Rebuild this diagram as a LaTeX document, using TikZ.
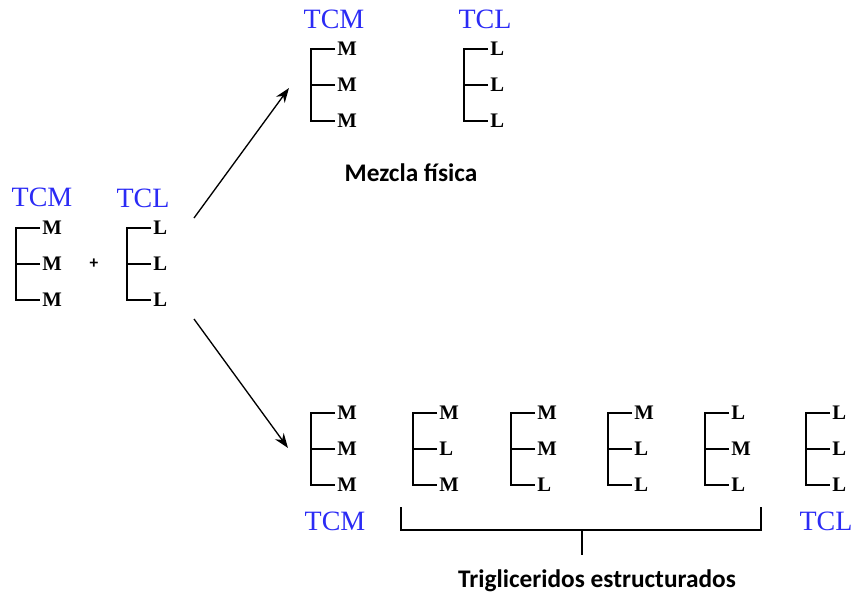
\documentclass[tikz,border=0pt]{standalone}
\usepackage{fontspec}
\setmainfont{Liberation Serif}
\newfontfamily\calibri{Carlito}
\usetikzlibrary{arrows.meta, positioning}
\definecolor{TagBlue}{HTML}{2B2BF5}

% one glycerol backbone with three fatty acids: name, x, y, acids
\newcommand{\glyc}[6]{%
  \coordinate (#1) at (#2,#3);
  \node[acid] (#1-a) at (#2+24,#3) {#4};
  \node[acid] (#1-b) at (#2+24,#3+36) {#5};
  \node[acid] (#1-c) at (#2+24,#3+72) {#6};
  \draw[chain] (#1-a.west) -- (#1-a.west -| #1) -- (#1-c.west -| #1) -- (#1-c.west);
  \draw[chain] (#1-b.west) -- (#1-b.west -| #1);
}

\begin{document}
\begin{tikzpicture}[x=0.75pt, y=-0.75pt,
    chain/.style={line width=1.5pt, line join=miter},
    acid/.style={font=\fontsize{15.5}{15.5}\selectfont\bfseries, anchor=west, inner xsep=1.5pt, inner ysep=0pt},
    tag/.style={font=\fontsize{21}{21}\selectfont, text=TagBlue, inner sep=0pt},
    caption/.style={font=\calibri\bfseries\fontsize{19}{19}\selectfont, inner sep=0pt},
    flow/.style={line width=1pt, -{Stealth[length=11pt, width=8pt]}}]
  \useasboundingbox (0,0) rectangle (851,596);

  % starting oils
  \node[tag] (tcmIn) at (42,197) {TCM};
  \node[tag] (tclIn) at (143,198) {TCL};
  \glyc{mIn}{16}{228}{M}{M}{M}
  \glyc{lIn}{127}{228}{L}{L}{L}
  \node[font=\calibri\bfseries\fontsize{13}{13}\selectfont] (plus) at (94,264) {+};

  % physical blend
  \node[tag] (tcmMix) at (334,19) {TCM};
  \node[tag] (tclMix) at (485,19) {TCL};
  \glyc{mMix}{311}{49}{M}{M}{M}
  \glyc{lMix}{464}{49}{L}{L}{L}
  \node[caption] (mix) at (411,173) {Mezcla física};

  % interesterified products
  \foreach \n/\x/\a/\b/\c in {p1/311/M/M/M, p2/413/M/L/M, p3/511/M/M/L,
                              p4/608/M/L/L, p5/705/L/M/L, p6/806/L/L/L}
    \glyc{\n}{\x}{413}{\a}{\b}{\c};
  \node[tag] (tcmOut) at (335,521) {TCM};
  \node[tag] (tclOut) at (826,521) {TCL};

  % brace under the structured ones
  \coordinate (braceL) at (401,507);
  \coordinate (braceR) at (761,507);
  \coordinate (braceMid) at (582,530);
  \draw[chain, line width=1.2pt] (braceL) |- (braceR |- braceMid) -- (braceR);
  \draw[chain, line width=1.2pt] (braceMid) -- ++(0,25);
  \node[caption] (struct) at (597,581) {Trigliceridos estructurados};

  % arrows
  \coordinate (fromUp) at (194,218);
  \coordinate (toMix) at (289,88);
  \coordinate (fromDown) at (194,319);
  \coordinate (toProd) at (288,448);
  \draw[flow] (fromUp) -- (toMix);
  \draw[flow] (fromDown) -- (toProd);
\end{tikzpicture}
\end{document}
